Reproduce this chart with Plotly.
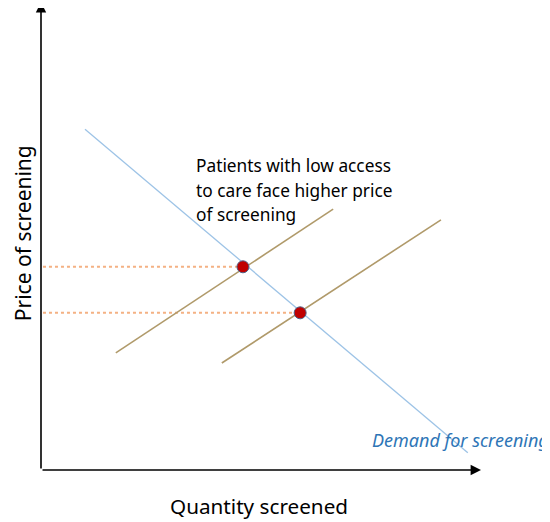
import plotly.graph_objects as go

# Data (arbitrary quantity / price units, axes run 0..100)
demand_x = [10.0, 97.0]
demand_y = [73.3, 3.7]
supply_low_access_x = [17.0, 66.4]
supply_low_access_y = [25.2, 56.1]
supply_x = [41.1, 90.9]
supply_y = [23.0, 53.8]
equilibrium_x = [45.9, 58.9]
equilibrium_y = [43.7, 33.8]
guide_start_x = 0.45

annotation_lines = ["Patients with low access", "to care face higher price", "of screening"]
annotation_line_y = [65.4, 60.2, 55.0]
demand_label = "Demand for screening"
x_title = "Quantity screened"
y_title = "Price of screening"

FONT = "Noto Sans"

fig = go.Figure()

# dotted price guides
for ex, ey in zip(equilibrium_x, equilibrium_y):
    fig.add_trace(go.Scatter(x=[guide_start_x, ex], y=[ey, ey], mode="lines",
                             line=dict(color="#F4B183", width=2, dash="dot"),
                             hoverinfo="skip", showlegend=False))

fig.add_trace(go.Scatter(x=demand_x, y=demand_y, mode="lines",
                         line=dict(color="#9DC3E6", width=1.3), showlegend=False))
fig.add_trace(go.Scatter(x=supply_low_access_x, y=supply_low_access_y, mode="lines",
                         line=dict(color="#B09A6A", width=1.6), showlegend=False))
fig.add_trace(go.Scatter(x=supply_x, y=supply_y, mode="lines",
                         line=dict(color="#B09A6A", width=1.6), showlegend=False))
fig.add_trace(go.Scatter(x=equilibrium_x, y=equilibrium_y, mode="markers",
                         marker=dict(color="#C00000", size=12, line=dict(color="#4F6287", width=1)),
                         showlegend=False))

# axes arrows
fig.add_annotation(x=100, y=0, ax=0, ay=0, xref="x", yref="y", axref="x", ayref="y",
                   showarrow=True, arrowhead=2, arrowsize=1.3, arrowwidth=1.6,
                   arrowcolor="black", text="")
fig.add_annotation(x=0, y=100.6, ax=0, ay=0, xref="x", yref="y", axref="x", ayref="y",
                   showarrow=True, arrowhead=2, arrowsize=1.3, arrowwidth=1.6,
                   arrowcolor="black", text="")

for line, ly in zip(annotation_lines, annotation_line_y):
    fig.add_annotation(x=34.7, y=ly, xref="x", yref="y", text=line,
                       showarrow=False, xanchor="left", yanchor="middle", align="left",
                       font=dict(family=FONT, size=17.3, color="black"))
fig.add_annotation(x=74.8, y=6.45, xref="x", yref="y", text="<i>" + demand_label + "</i>",
                   showarrow=False, xanchor="left", yanchor="middle",
                   font=dict(family=FONT, size=18, color="#2E75B6"))
fig.add_annotation(x=0.4955, y=-0.0779, xref="paper", yref="paper", text=x_title,
                   showarrow=False, xanchor="center", yanchor="middle",
                   font=dict(family=FONT, size=20.7, color="black"))
fig.add_annotation(x=-0.0405, y=0.513, xref="paper", yref="paper", text=y_title, textangle=-90,
                   showarrow=False, xanchor="center", yanchor="middle",
                   font=dict(family=FONT, size=21, color="black"))

fig.update_xaxes(range=[0, 100], visible=False)
fig.update_yaxes(range=[0, 99.35], visible=False)
fig.update_layout(width=542, height=514, margin=dict(l=33, r=69, t=0, b=52),
                  plot_bgcolor="white", paper_bgcolor="white")

fig.write_html("out.html")
